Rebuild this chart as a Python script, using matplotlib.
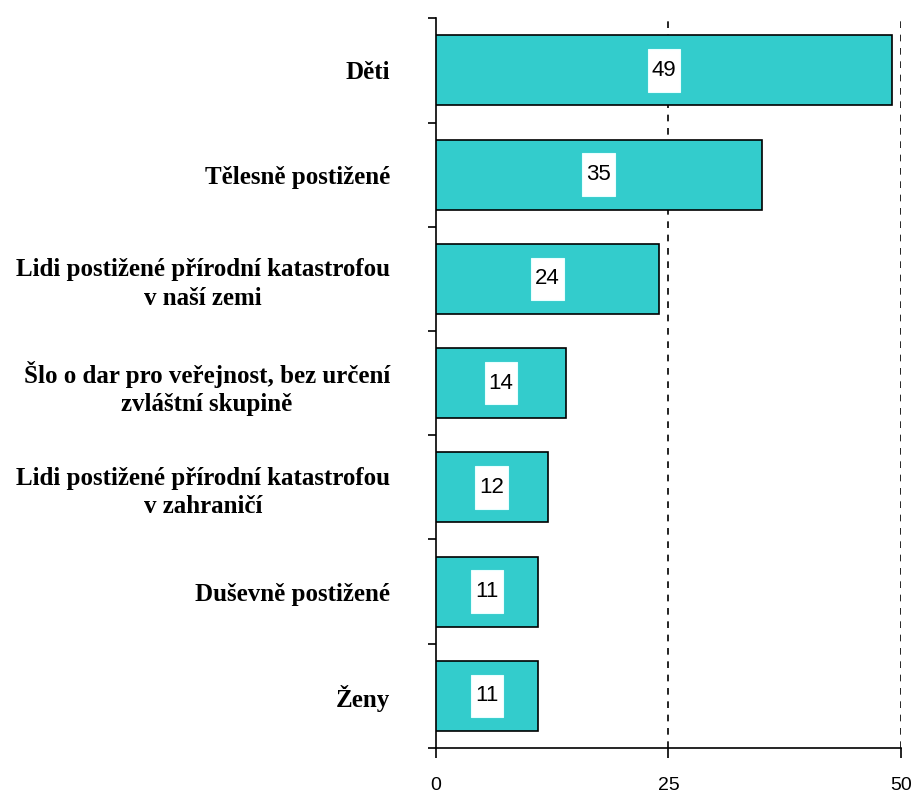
import numpy as np
import matplotlib
matplotlib.use("Agg")
import matplotlib.pyplot as plt
from matplotlib.path import Path

categories = [
    "Děti",
    "Tělesně postižené",
    "Lidi postižené přírodní katastrofou\nv naší zemi",
    "Šlo o dar pro veřejnost, bez určení\nzvláštní skupině",
    "Lidi postižené přírodní katastrofou\nv zahraničí",
    "Duševně postižené",
    "Ženy",
]
values = [49, 35, 24, 14, 12, 11, 11]
x_ticks = [0, 25, 50]

BAR_COLOR = "#33CCCC"
NUM_FONT = "Liberation Sans"


def tall_box(x0, y0, width, height, mutation_size):
    # white label box, taller than wide like the original
    px, py = 0.18 * mutation_size, 0.48 * mutation_size
    x0, y0 = x0 - px, y0 - py
    x1, y1 = x0 + width + 2 * px, y0 + height + 2 * py
    return Path([(x0, y0), (x1, y0), (x1, y1), (x0, y1), (x0, y0)], closed=True)


fig = plt.figure(figsize=(9.12, 7.94), dpi=100)
ax = fig.add_axes([0.478, 0.058, 0.510, 0.919])

n = len(categories)
pos = np.arange(n)[::-1]
ax.barh(pos, values, height=0.67, color=BAR_COLOR, edgecolor="black", linewidth=1.2, zorder=3)

for p, v in zip(pos, values):
    ax.text(v / 2, p, str(v), ha="center", va="center", fontsize=16,
            family=NUM_FONT, zorder=4,
            bbox=dict(boxstyle=tall_box, facecolor="white", edgecolor="#e8ffff", linewidth=0.8))

ax.set_xlim(0, 50)
ax.set_ylim(-0.5, n - 0.5)

ax.set_xticks(x_ticks)
ax.set_xticklabels([str(t) for t in x_ticks], family=NUM_FONT, fontsize=14)
ax.tick_params(axis="x", direction="out", length=7, width=1.2, pad=14)

# ticks at category boundaries, labels at category centres
ax.set_yticks(np.arange(-0.5, n, 1.0))
ax.set_yticklabels([])
ax.tick_params(axis="y", which="major", direction="out", length=6, width=1.2)
ax.set_yticks(pos, minor=True)
ax.set_yticklabels(categories, minor=True, family="Liberation Serif", fontweight="bold",
                   fontsize=18, multialignment="center", linespacing=1.3)
ax.tick_params(axis="y", which="minor", length=0, pad=33)

for t in x_ticks[1:]:
    ax.axvline(t, color="black", linestyle=(0, (4, 4)), linewidth=1.2, zorder=1)

ax.spines["top"].set_visible(False)
ax.spines["right"].set_visible(False)
ax.spines["left"].set_linewidth(1.2)
ax.spines["bottom"].set_linewidth(1.2)

fig.savefig("out.png", dpi=100)
